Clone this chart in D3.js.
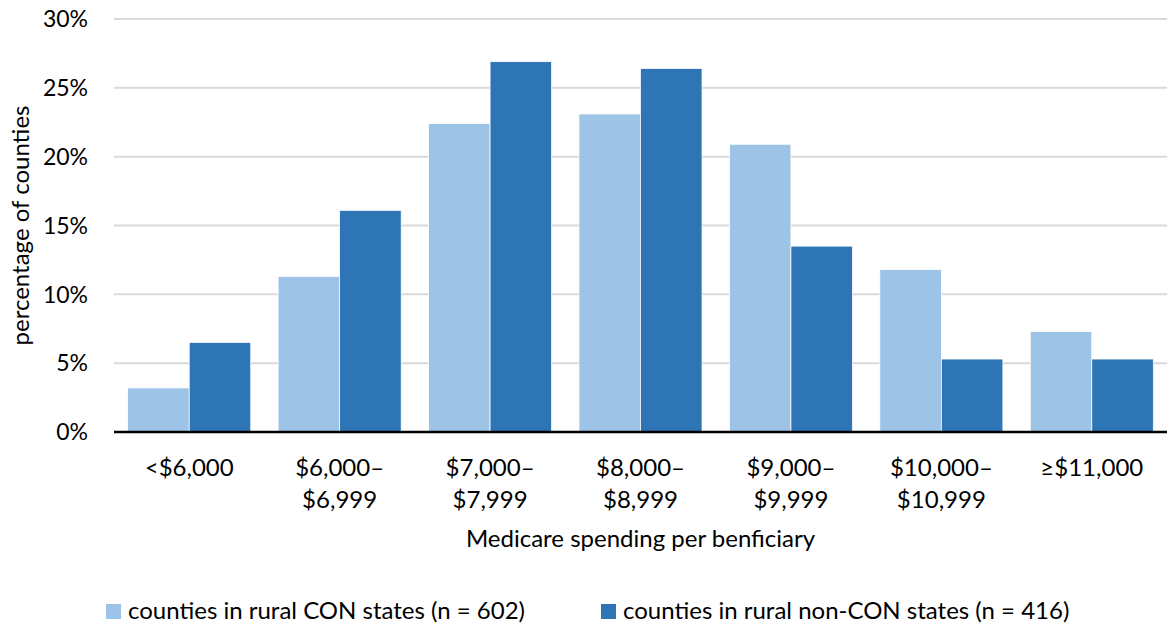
<!DOCTYPE html>
<html>
<head>
<meta charset="utf-8">
<script src="https://cdn.jsdelivr.net/npm/d3@7"></script>
<style>
  body { margin: 0; background: #fff; }
  text { font-family: Lato, "Open Sans", sans-serif; fill: #000; }
</style>
</head>
<body>
<svg id="chart" width="1167" height="625"></svg>
<script>
const categories = [
    ["<$6,000"],
    ["$6,000–", "$6,999"],
    ["$7,000–", "$7,999"],
    ["$8,000–", "$8,999"],
    ["$9,000–", "$9,999"],
    ["$10,000–", "$10,999"],
    ["≥$11,000"]
];
const conStates = [3.2, 11.3, 22.4, 23.1, 20.9, 11.8, 7.3];
const nonConStates = [6.5, 16.1, 26.9, 26.4, 13.5, 5.3, 5.3];
const seriesNames = ["counties in rural CON states (n = 602)", "counties in rural non-CON states (n = 416)"];
const yTicks = [0, 5, 10, 15, 20, 25, 30];

const colors = ["#9dc3e6", "#2e75b6"];
const margin = { top: 19, right: 0, bottom: 193, left: 114 };
const width = 1167 - margin.left - margin.right;
const height = 625 - margin.top - margin.bottom;
const fs = "24px";

const svg = d3.select("#chart")
    .append("g")
    .attr("transform", `translate(${margin.left},${margin.top})`);

const x0 = d3.scaleBand()
    .domain(d3.range(categories.length))
    .range([0, width])
    .paddingInner(0.182)
    .paddingOuter(0.091);

const x1 = d3.scaleBand()
    .domain([0, 1])
    .range([0, x0.bandwidth()]);

const y = d3.scaleLinear()
    .domain([0, 30])
    .range([height, 0]);

// gridlines
svg.append("g")
    .selectAll("line")
    .data(yTicks.filter(d => d > 0))
    .join("line")
    .attr("x1", 0)
    .attr("x2", width)
    .attr("y1", d => y(d))
    .attr("y2", d => y(d))
    .attr("stroke", "#d9d9d9")
    .attr("stroke-width", 2);

// y tick labels
svg.append("g")
    .selectAll("text")
    .data(yTicks)
    .join("text")
    .attr("x", -26)
    .attr("y", d => y(d))
    .attr("dy", "0.36em")
    .attr("text-anchor", "end")
    .style("font-size", "23px")
    .text(d => d + "%");

// bars
const rows = categories.map((c, i) => ({ i, values: [conStates[i], nonConStates[i]] }));

const groups = svg.append("g")
    .selectAll("g")
    .data(rows)
    .join("g")
    .attr("transform", d => `translate(${x0(d.i)},0)`);

groups.selectAll("rect")
    .data(d => d.values.map((v, s) => ({ v, s })))
    .join("rect")
    .attr("x", d => x1(d.s))
    .attr("y", d => y(d.v))
    .attr("width", x1.bandwidth())
    .attr("height", d => height - y(d.v))
    .attr("fill", d => colors[d.s])
    .attr("stroke", "#fff")
    .attr("stroke-width", 0.75);

// x axis line
svg.append("line")
    .attr("x1", 0)
    .attr("x2", width)
    .attr("y1", height)
    .attr("y2", height)
    .attr("stroke", "#000")
    .attr("stroke-width", 2.5);

// x labels
const xl = svg.append("g")
    .selectAll("text")
    .data(categories)
    .join("text")
    .attr("text-anchor", "middle")
    .attr("transform", (d, i) => `translate(${x0(i) + x0.bandwidth() / 2},${height + 44})`)
    .style("font-size", fs);

xl.selectAll("tspan")
    .data(d => d)
    .join("tspan")
    .attr("x", 0)
    .attr("dy", (d, j) => j === 0 ? 0 : 32)
    .text(d => d);

// axis titles
svg.append("text")
    .attr("x", width / 2)
    .attr("y", height + 115)
    .attr("text-anchor", "middle")
    .style("font-size", fs)
    .text("Medicare spending per benficiary");

svg.append("text")
    .attr("transform", `translate(${-85},${height / 2}) rotate(-90)`)
    .attr("text-anchor", "middle")
    .style("font-size", fs)
    .text("percentage of counties");

// legend
const legend = d3.select("#chart").append("g");
const legendX = [106, 601];
seriesNames.forEach((name, s) => {
    legend.append("rect")
        .attr("x", legendX[s])
        .attr("y", 604)
        .attr("width", 15)
        .attr("height", 15)
        .attr("fill", colors[s]);
    legend.append("text")
        .attr("x", legendX[s] + 22)
        .attr("y", 610)
        .attr("dy", "0.36em")
        .style("font-size", fs)
        .text(name);
});
</script>
</body>
</html>
